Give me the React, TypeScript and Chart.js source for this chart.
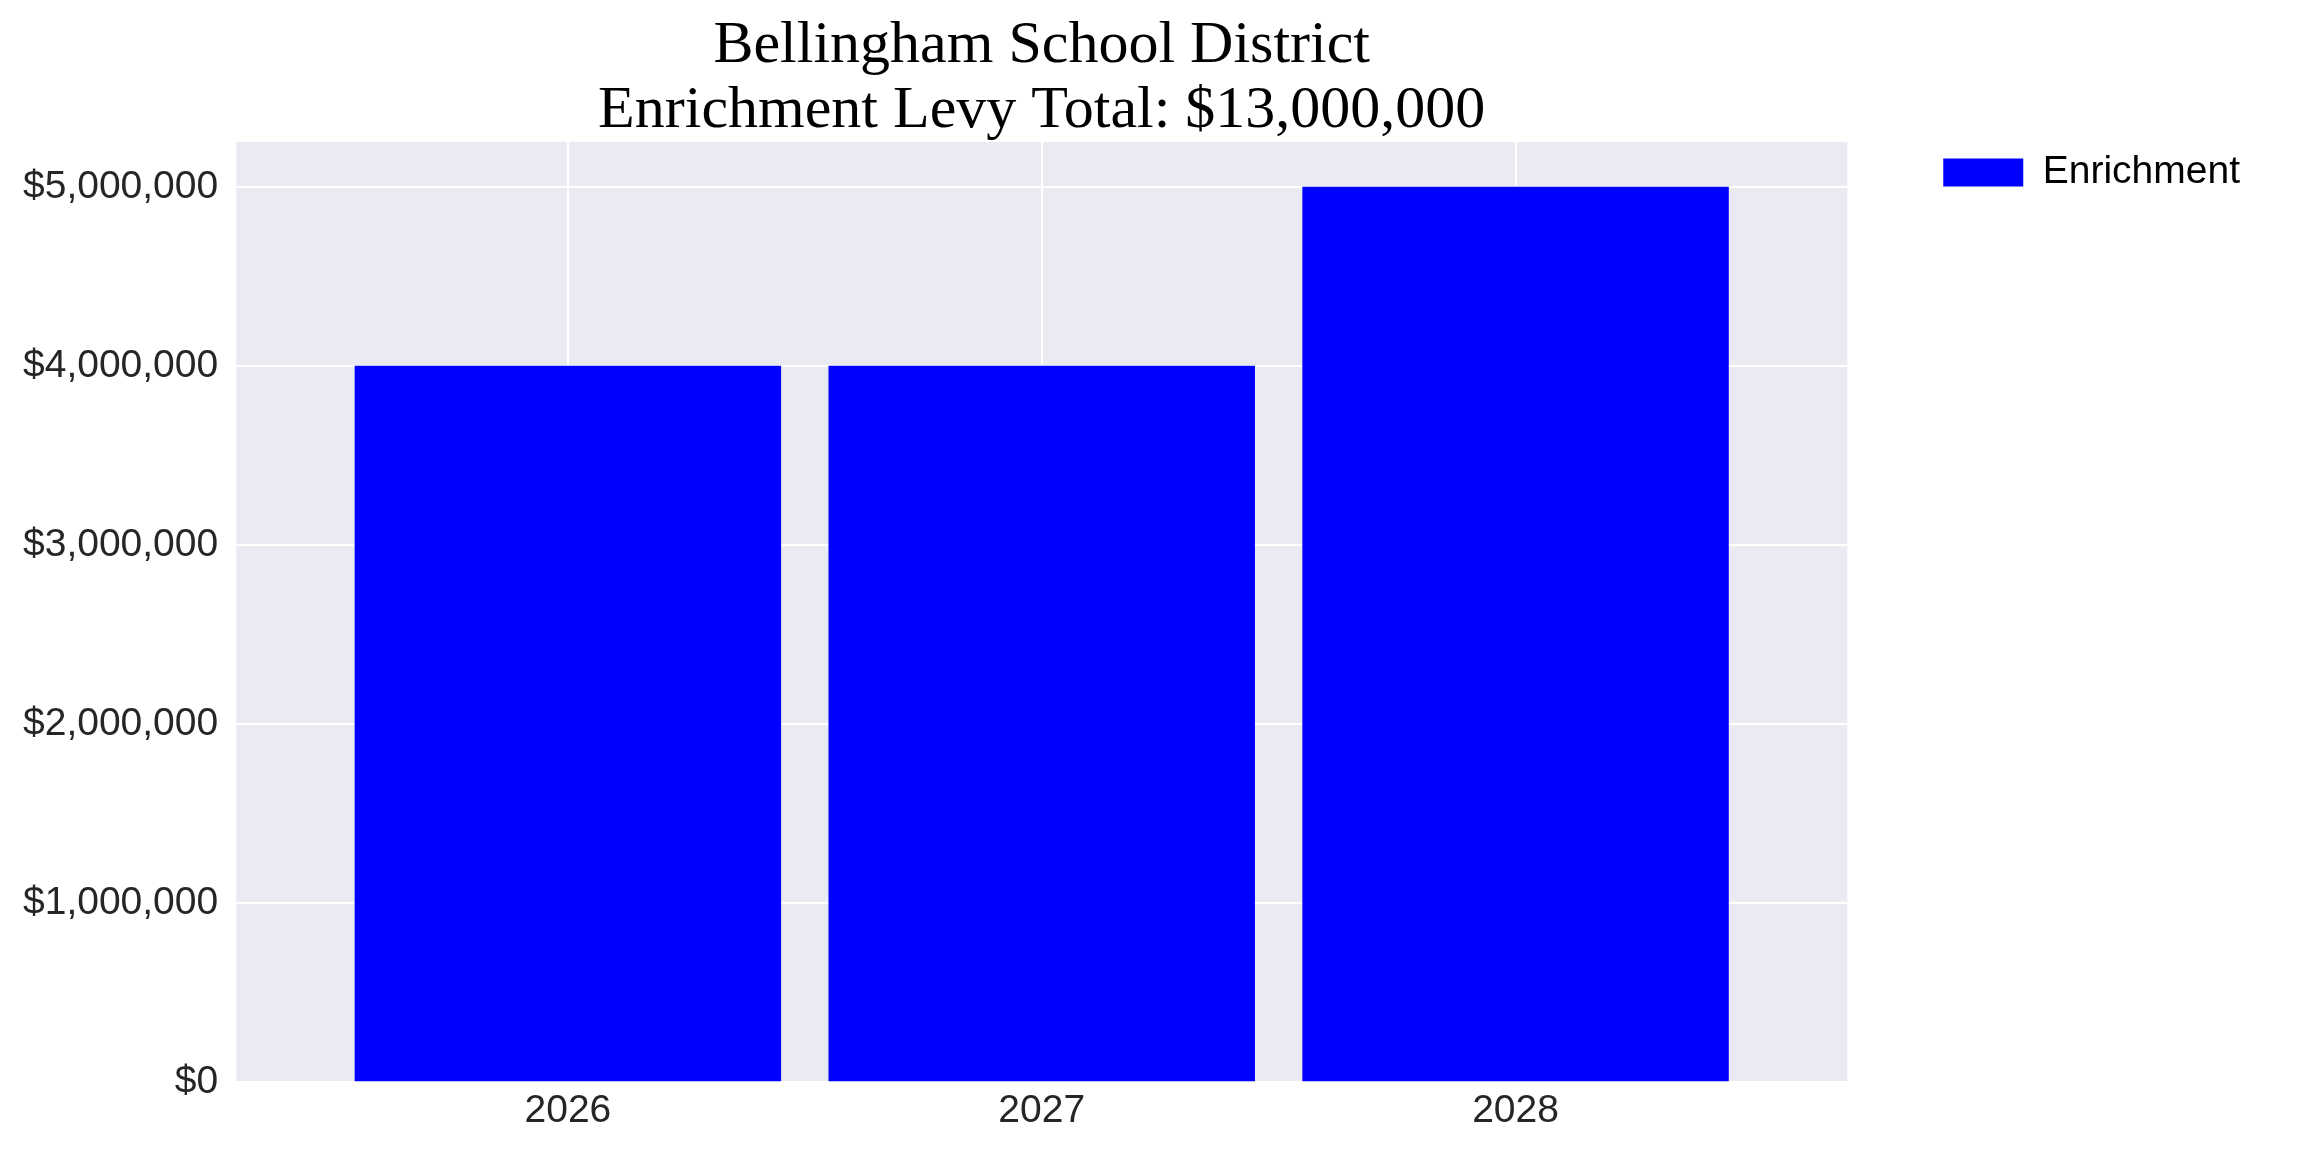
import { useEffect, useRef } from "react";
import { Chart, registerables } from "chart.js";

Chart.register(...registerables);

const years = ["2026", "2027", "2028"];
const enrichment = [4000000, 4000000, 5000000];
const yTicks = [0, 1000000, 2000000, 3000000, 4000000, 5000000];
const titleLines = ["Bellingham School District", "Enrichment Levy Total: $13,000,000"];
const seriesLabel = "Enrichment";

// fills the plot area with the seaborn grey
const plotBackground = {
	id: "plotBackground",
	beforeDraw(chart: Chart) {
		const { ctx, chartArea } = chart;
		ctx.save();
		ctx.fillStyle = "#eaeaf2";
		ctx.fillRect(chartArea.left, chartArea.top, chartArea.width, chartArea.height);
		ctx.restore();
	},
};

const money = (v: number) => "$" + v.toLocaleString("en-US");

export default function App() {
	const canvasRef = useRef<HTMLCanvasElement>(null);

	useEffect(() => {
		if (!canvasRef.current) return;
		const chart = new Chart(canvasRef.current, {
			type: "bar",
			data: {
				datasets: [
					{
						label: seriesLabel,
						data: enrichment.map((v, i) => ({ x: i, y: v })),
						backgroundColor: "#0000ff",
						borderWidth: 0,
						categoryPercentage: 1,
						barPercentage: 0.9,
					},
				],
			},
			options: {
				responsive: false,
				devicePixelRatio: 1,
				animation: false,
				layout: { padding: { left: 5, right: 54, top: 0, bottom: 11 } },
				plugins: {
					title: {
						display: true,
						fullSize: false,
						text: titleLines,
						color: "#000",
						font: { family: "'Liberation Serif', 'Times New Roman', serif", size: 60, weight: "normal", lineHeight: 1.0833 },
						padding: { top: 13.5, bottom: -1.5 },
					},
					legend: {
						position: "right",
						align: "start",
						fullSize: false,
						labels: {
							boxWidth: 80,
							boxHeight: 28,
							padding: 11,
							color: "#000",
							font: { family: "'Liberation Sans', Arial, sans-serif", size: 39 },
						},
					},
					tooltip: { enabled: false },
				},
				scales: {
					x: {
						type: "linear",
						min: -0.7,
						max: 2.7,
						offset: false,
						afterBuildTicks: (axis) => {
							axis.ticks = years.map((_, i) => ({ value: i }));
						},
						grid: { color: "#ffffff", lineWidth: 2, drawTicks: false, offset: false },
						border: { display: false },
						ticks: {
							padding: 6,
							color: "#262626",
							font: { family: "'Liberation Sans', Arial, sans-serif", size: 39 },
							callback: (v) => years[Number(v)] ?? "",
						},
					},
					y: {
						min: 0,
						max: 5250000,
						afterBuildTicks: (axis) => {
							axis.ticks = yTicks.map((v) => ({ value: v }));
						},
						grid: { color: "#ffffff", lineWidth: 2, drawTicks: false },
						border: { display: false },
						ticks: {
							padding: 18,
							color: "#262626",
							font: { family: "'Liberation Sans', Arial, sans-serif", size: 39 },
							callback: (v) => money(Number(v)),
						},
					},
					// empty axis that keeps the gap between the plot and the legend
					gap: {
						type: "linear",
						position: "right",
						grid: { display: false },
						border: { display: false },
						ticks: { display: false },
						afterFit: (scale) => {
							scale.width = 85;
						},
					},
				},
			},
			plugins: [plotBackground],
		});
		return () => chart.destroy();
	}, []);

	return (
		<div style={{ position: "fixed", left: 0, top: 0, width: 2304, height: 1152, background: "#fff" }}>
			<canvas ref={canvasRef} width={2304} height={1152}></canvas>
		</div>
	);
}
